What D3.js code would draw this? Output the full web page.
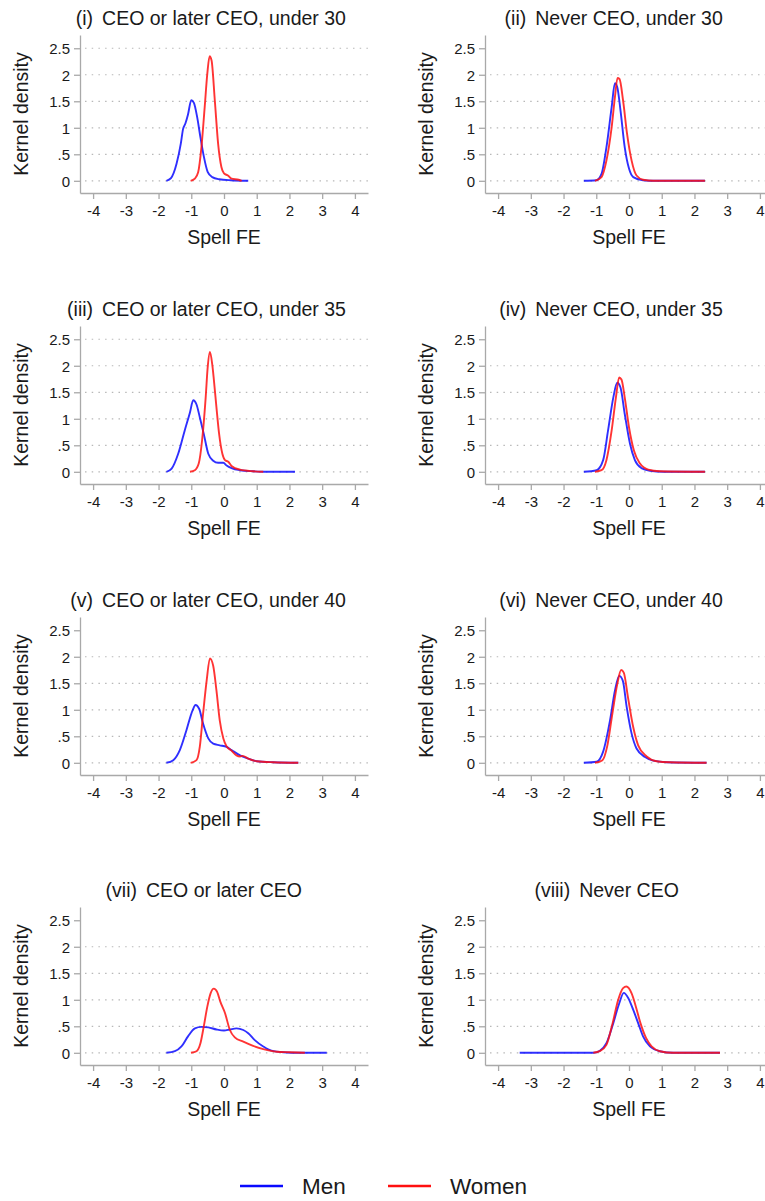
<!DOCTYPE html>
<html>
<head>
<meta charset="utf-8">
<script src="https://cdn.jsdelivr.net/npm/d3@7"></script>
<style>
  body { margin: 0; background: #fff; }
  svg { font-family: "Liberation Sans", Arial, sans-serif; }
</style>
</head>
<body>
<script>
// panel titles
var panelLabels = ["(i)", "(ii)", "(iii)", "(iv)", "(v)", "(vi)", "(vii)", "(viii)"];
var panelNames = ["CEO or later CEO, under 30", "Never CEO, under 30",
                  "CEO or later CEO, under 35", "Never CEO, under 35",
                  "CEO or later CEO, under 40", "Never CEO, under 40",
                  "CEO or later CEO", "Never CEO"];

var xTicks = [-4, -3, -2, -1, 0, 1, 2, 3, 4];
var yTicks = [0, 0.5, 1, 1.5, 2, 2.5];
var yTickLabels = ["0", ".5", "1", "1.5", "2", "2.5"];

var seriesNames = ["Men", "Women"];

// kernel densities, [spell FE, density]
var men1 = [[-1.76,0],[-1.62,0.05],[-1.45,0.32],[-1.32,0.7],[-1.25,0.98],[-1.18,1.08],[-1.1,1.25],[-1.0,1.52],[-0.92,1.47],[-0.82,1.2],[-0.72,0.82],[-0.62,0.47],[-0.5,0.17],[-0.36,0.07],[-0.15,0.03],[0.2,0.01],[0.74,0]];
var women1 = [[-1.02,0],[-0.89,0.04],[-0.79,0.16],[-0.69,0.63],[-0.59,1.39],[-0.51,2.02],[-0.44,2.35],[-0.38,2.27],[-0.28,1.51],[-0.18,0.7],[-0.08,0.26],[0.0,0.14],[0.12,0.1],[0.23,0.04],[0.45,0.02],[0.54,0]];

var men2 = [[-1.38,0],[-1.0,0.01],[-0.84,0.13],[-0.69,0.63],[-0.53,1.39],[-0.43,1.84],[-0.36,1.77],[-0.26,1.33],[-0.13,0.63],[0.0,0.23],[0.13,0.07],[0.43,0.01],[0.8,0],[2.32,0]];
var women2 = [[-1.04,0],[-0.84,0.07],[-0.69,0.38],[-0.53,1.01],[-0.43,1.58],[-0.35,1.94],[-0.29,1.92],[-0.18,1.51],[-0.06,0.89],[0.08,0.38],[0.23,0.1],[0.43,0.02],[0.74,0],[2.32,0]];

var men3 = [[-1.76,0],[-1.6,0.06],[-1.4,0.34],[-1.2,0.78],[-1.04,1.12],[-0.94,1.35],[-0.84,1.27],[-0.74,1.03],[-0.62,0.72],[-0.48,0.34],[-0.33,0.21],[-0.18,0.17],[-0.02,0.17],[0.08,0.12],[0.23,0.07],[0.49,0.03],[0.89,0.01],[1.3,0],[2.17,0]];
var women3 = [[-1.04,0],[-0.89,0.03],[-0.77,0.16],[-0.67,0.59],[-0.56,1.4],[-0.5,1.96],[-0.43,2.26],[-0.36,2.03],[-0.31,1.74],[-0.23,1.21],[-0.15,0.72],[-0.05,0.34],[0.03,0.22],[0.13,0.19],[0.23,0.11],[0.49,0.04],[0.89,0.01],[1.2,0]];

var men4 = [[-1.38,0],[-0.99,0.03],[-0.79,0.22],[-0.64,0.78],[-0.48,1.4],[-0.36,1.68],[-0.26,1.59],[-0.13,1.09],[0.03,0.53],[0.18,0.22],[0.38,0.07],[0.64,0.02],[1.05,0],[2.32,0]];
var women4 = [[-1.04,0],[-0.84,0.03],[-0.69,0.22],[-0.53,0.78],[-0.4,1.4],[-0.3,1.78],[-0.23,1.74],[-0.13,1.4],[0.0,0.84],[0.15,0.4],[0.33,0.16],[0.59,0.04],[0.94,0.01],[2.32,0]];

var men5 = [[-1.76,0],[-1.55,0.05],[-1.35,0.24],[-1.15,0.61],[-0.96,0.99],[-0.87,1.09],[-0.76,1.02],[-0.64,0.74],[-0.48,0.46],[-0.33,0.36],[-0.13,0.33],[0.08,0.3],[0.23,0.24],[0.49,0.14],[0.74,0.08],[1.0,0.03],[1.5,0.01],[2.27,0]];
var women5 = [[-1.02,0],[-0.84,0.05],[-0.74,0.3],[-0.64,0.92],[-0.53,1.55],[-0.43,1.97],[-0.33,1.83],[-0.23,1.36],[-0.13,0.8],[-0.02,0.46],[0.08,0.31],[0.21,0.24],[0.38,0.14],[0.49,0.12],[0.57,0.13],[0.74,0.08],[1.0,0.03],[1.5,0.01],[2.27,0]];

var men6 = [[-1.38,0],[-0.99,0.02],[-0.79,0.21],[-0.58,0.8],[-0.43,1.36],[-0.3,1.64],[-0.19,1.55],[-0.07,1.05],[0.08,0.55],[0.23,0.27],[0.49,0.11],[0.74,0.04],[1.15,0.01],[2.37,0]];
var women6 = [[-1.04,0],[-0.81,0.05],[-0.67,0.3],[-0.51,0.92],[-0.36,1.48],[-0.24,1.75],[-0.16,1.7],[-0.03,1.23],[0.13,0.67],[0.28,0.33],[0.54,0.12],[0.84,0.03],[1.25,0.01],[2.37,0]];

var men7 = [[-1.76,0],[-1.5,0.03],[-1.3,0.12],[-1.1,0.31],[-0.89,0.46],[-0.69,0.49],[-0.48,0.48],[-0.23,0.44],[0.0,0.42],[0.18,0.44],[0.38,0.46],[0.59,0.43],[0.74,0.37],[0.94,0.24],[1.2,0.12],[1.45,0.04],[1.81,0.01],[2.32,0],[3.14,0]];
var women7 = [[-1.01,0],[-0.84,0.03],[-0.72,0.18],[-0.62,0.49],[-0.51,0.87],[-0.41,1.12],[-0.31,1.21],[-0.21,1.15],[-0.11,0.96],[0.03,0.75],[0.18,0.43],[0.33,0.29],[0.59,0.21],[0.89,0.13],[1.2,0.07],[1.61,0.02],[2.01,0.01],[2.47,0]];

var men8 = [[-3.34,0],[-1.09,0],[-0.89,0.04],[-0.69,0.18],[-0.48,0.56],[-0.3,0.93],[-0.16,1.13],[-0.02,1.03],[0.13,0.81],[0.28,0.56],[0.43,0.31],[0.64,0.12],[0.94,0.03],[1.35,0],[2.78,0]];
var women8 = [[-1.09,0],[-0.89,0.03],[-0.69,0.15],[-0.5,0.56],[-0.33,1.0],[-0.18,1.22],[-0.08,1.25],[0.08,1.12],[0.21,0.87],[0.35,0.56],[0.52,0.28],[0.69,0.12],[0.94,0.03],[1.35,0],[2.78,0]];

var menSeries = [men1, men2, men3, men4, men5, men6, men7, men8];
var womenSeries = [women1, women2, women3, women4, women5, women6, women7, women8];

var colors = ["#0a0aff", "#ff1010"];
var textColor = "#1a1a1a";
var axisColor = "#a9a9a9";

var svg = d3.select("body").append("svg")
	.attr("width", 765)
	.attr("height", 1201);

var plotW = 288, plotH = 158;
var colX = [80, 485];
var rowY = [35, 326, 617, 907];

var xScale = d3.scaleLinear().domain([-4.4, 4.4]).range([0, plotW]);
var yScale = d3.scaleLinear().domain([-0.23, 2.75]).range([plotH, 0]);

var line = d3.line()
	.x(function(d){ return xScale(d[0]); })
	.y(function(d){ return yScale(d[1]); })
	.curve(d3.curveMonotoneX);

panelNames.forEach(function(name, i){
	var g = svg.append("g")
		.attr("transform", "translate(" + colX[i % 2] + "," + rowY[Math.floor(i / 2)] + ")");

	var maxY = d3.max(menSeries[i].concat(womenSeries[i]), function(d){ return d[1]; });
	var gridVals = yTicks.filter(function(v){ return v < 2.5 || maxY > 2.2; });

	// dotted grid
	g.selectAll(".grid")
		.data(gridVals)
		.enter().append("line")
		.attr("x1", 5)
		.attr("x2", plotW)
		.attr("y1", function(d){ return yScale(d); })
		.attr("y2", function(d){ return yScale(d); })
		.attr("stroke", "#b8b8b8")
		.attr("stroke-width", 1.2)
		.attr("stroke-dasharray", "1.5,5.2");

	var yAxis = d3.axisLeft(yScale)
		.tickValues(yTicks)
		.tickFormat(function(d, j){ return yTickLabels[j]; })
		.tickSize(6)
		.tickPadding(4)
		.tickSizeOuter(0);
	var xAxis = d3.axisBottom(xScale)
		.tickValues(xTicks)
		.tickFormat(function(d){ return String(d); })
		.tickSize(6)
		.tickPadding(6)
		.tickSizeOuter(0);

	var ya = g.append("g").call(yAxis);
	var xa = g.append("g").attr("transform", "translate(0," + plotH + ")").call(xAxis);
	[ya, xa].forEach(function(a){
		a.select(".domain").attr("stroke", axisColor).attr("stroke-width", 1.3);
		a.selectAll(".tick line").attr("stroke", axisColor).attr("stroke-width", 1.3);
		a.selectAll(".tick text")
			.attr("fill", textColor)
			.style("font-size", "15px")
			.style("font-family", "Liberation Sans, Arial, sans-serif");
	});
	ya.selectAll(".tick text").attr("dy", "0.36em");

	// curves
	[menSeries[i], womenSeries[i]].forEach(function(s, k){
		g.append("path")
			.datum(s)
			.attr("d", line)
			.attr("fill", "none")
			.attr("stroke", colors[k])
			.attr("stroke-width", 1.9)
			.attr("stroke-opacity", 0.85);
	});

	// axis titles
	g.append("text")
		.attr("transform", "translate(-52," + (plotH / 2) + ") rotate(-90)")
		.attr("text-anchor", "middle")
		.attr("fill", textColor)
		.style("font-size", "19.5px")
		.text("Kernel density");

	g.append("text")
		.attr("x", plotW / 2)
		.attr("y", 209)
		.attr("text-anchor", "middle")
		.attr("fill", textColor)
		.style("font-size", "19.5px")
		.text("Spell FE");

	// panel title: name centred on plot, label to its left
	var t = g.append("text")
		.attr("x", plotW / 2)
		.attr("y", -10)
		.attr("text-anchor", "middle")
		.attr("fill", textColor)
		.style("font-size", "19.5px")
		.text(name);
	var w = t.node().getComputedTextLength();
	g.append("text")
		.attr("x", plotW / 2 - w / 2 - 9)
		.attr("y", -10)
		.attr("text-anchor", "end")
		.attr("fill", textColor)
		.style("font-size", "19.5px")
		.text(panelLabels[i]);
});

// legend
var legend = svg.append("g").attr("transform", "translate(240,1186)");
seriesNames.forEach(function(n, k){
	var lg = legend.append("g").attr("transform", "translate(" + (k * 148) + ",0)");
	lg.append("line")
		.attr("x1", 0).attr("x2", 43)
		.attr("y1", 0).attr("y2", 0)
		.attr("stroke", colors[k])
		.attr("stroke-width", 2.6);
	lg.append("text")
		.attr("x", 62)
		.attr("y", 8)
		.attr("fill", textColor)
		.style("font-size", "22.5px")
		.text(n);
});
</script>
</body>
</html>
